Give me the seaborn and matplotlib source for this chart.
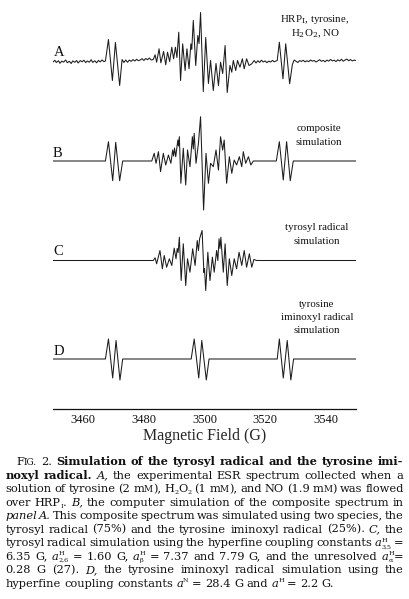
import numpy as np
import pandas as pd
import matplotlib
matplotlib.use('Agg')
import matplotlib.pyplot as plt
from matplotlib.ticker import MultipleLocator
import seaborn as sns

# ---------------- data (field in G, signal in arbitrary units) ----------------
a_field = [3450.0, 3450.6, 3451.1, 3451.8, 3452.3, 3452.9, 3453.5, 3454.2, 3454.7, 3455.4,
           3456.0, 3456.5, 3457.2, 3457.8, 3458.3, 3459.0, 3459.6, 3460.2, 3460.8, 3461.3,
           3462.0, 3462.6, 3463.1, 3463.8, 3464.4, 3465.0, 3465.6, 3466.2, 3466.8, 3467.3,
           3468.3, 3469.6, 3470.6, 3472.0, 3472.8, 3473.4, 3474.0,
           3474.6, 3475.2, 3475.8, 3476.4, 3477.0, 3477.6, 3478.2, 3478.8, 3479.4, 3480.0,
           3480.6, 3481.2, 3481.8, 3482.4,
           3483.1, 3483.7, 3484.2, 3485.0, 3485.6, 3486.5, 3487.2, 3487.8, 3488.5, 3489.2,
           3489.8, 3490.4, 3490.9, 3491.5, 3492.1, 3492.8, 3493.6, 3494.2, 3494.9, 3495.5,
           3495.8, 3496.3, 3497.1, 3497.8, 3498.2, 3498.7, 3499.6, 3500.4, 3501.3, 3502.0,
           3502.9, 3503.8, 3504.6, 3505.3, 3506.0, 3506.8, 3507.5, 3508.4, 3509.0, 3509.5,
           3510.3, 3510.9, 3511.7, 3512.5, 3513.1, 3513.9, 3514.7, 3515.6,
           3516.4, 3517.0, 3517.6, 3518.2, 3518.8, 3519.4, 3520.0, 3520.6, 3521.2, 3521.8,
           3522.4, 3523.0, 3523.6,
           3524.0, 3524.7, 3525.9, 3526.8, 3528.1, 3529.0, 3529.6,
           3530.2, 3530.8, 3531.4, 3532.0, 3532.6, 3533.2, 3533.8, 3534.4, 3535.0, 3535.6,
           3536.2, 3536.8, 3537.4, 3538.0, 3538.6, 3539.2, 3539.8, 3540.4, 3541.0, 3541.6,
           3542.2, 3542.8, 3543.4, 3544.0, 3544.6, 3545.2, 3545.8, 3546.4, 3547.0, 3547.6,
           3548.2, 3548.8, 3549.4, 3550.0]
a_signal = [-0.5, 1.2, -1.0, 0.8, -1.8, 0.4, -0.6, 1.5, -1.2, 0.2,
            -2.0, 0.6, -0.8, 1.0, -1.5, 0.9, -0.3, 1.3, -1.1, 0.5,
            -0.7, 1.8, -0.9, 0.7, -1.3, 1.1, -0.4, 1.6, -0.2, 0.5,
            22.0, -19.0, 19.0, -24.0, 2.0, -1.0, 1.5,
            -0.8, 1.4, 0.2, 1.9, 0.5, 2.2, 0.8, 1.5, 2.8, 1.0,
            3.0, 1.8, 3.5, 1.5,
            2.0, 6.7, -0.7, 12.7, -1.3, 10.0, -3.3, 9.3, 0.0, 14.3,
            2.7, 14.3, 4.0, 29.3, -19.0, 17.7, -9.0, 12.7, -7.3, 17.7,
            12.0, 41.0, -4.0, 26.0, 18.0, 49.0, -30.0, 24.0, -22.0, 1.0,
            -29.0, -2.0, -24.0, -0.7, -12.0, 16.0, -31.0, -4.0, -10.7, 1.0,
            -9.0, 1.0, -5.7, 2.7, -7.3, 2.7, -4.0, -2.3,
            1.0, -1.5, 0.8, -0.9, 1.3, -0.5, 0.6, -1.2, 0.4, -0.6,
            1.1, -0.3, 0.5,
            1.0, 19.3, -17.3, 17.7, -22.3, -3.0, 1.5,
            0.2, -1.0, 0.9, 0.1, 1.2, -0.4, 0.8, -0.2, 1.5, 0.3,
            1.0, -0.5, 0.7, 1.8, 0.2, 1.1, -0.3, 1.4, 0.4, 2.0,
            0.6, 1.3, -0.1, 1.7, 0.5, 2.2, 0.3, 1.5, 2.4, 0.8,
            1.9, 0.6, 1.4, 1.0]

b_field = [3450.0, 3467.3, 3468.3, 3469.7, 3470.7, 3472.0, 3473.0,
           3482.6, 3483.4, 3484.0, 3484.8, 3485.5, 3486.4, 3487.2, 3488.1, 3488.9, 3489.5,
           3489.8, 3490.1, 3490.5, 3491.2, 3491.4, 3491.7, 3492.2, 3493.0, 3493.8, 3494.4,
           3495.2, 3496.0, 3496.3, 3496.6, 3497.2, 3498.0, 3498.7, 3499.7, 3500.5, 3501.3,
           3502.0, 3502.9, 3503.8, 3504.6, 3505.3, 3506.0, 3506.5, 3507.3, 3508.2, 3509.0,
           3509.8, 3510.6, 3511.5, 3512.3, 3512.8, 3513.6, 3514.5, 3515.3, 3516.1,
           3523.7, 3524.7, 3526.0, 3527.1, 3528.3, 3529.3, 3550.0]
b_signal = [0.0, 0.0, 19.3, -19.7, 18.7, -19.7, 0.0,
            0.0, 7.7, -2.3, 9.3, -10.7, 7.7, -4.0, 6.0, -2.3, 11.0,
            5.0, 13.0, 4.3, 21.0, 15.0, 24.3, -22.3, 12.7, -24.0, 11.0,
            -5.7, 24.3, 12.0, 27.7, -2.3, 17.7, 44.3, -49.0, 7.7, -22.3,
            -2.3, -5.7, 11.0, -9.0, 24.3, 11.0, 21.0, -22.3, 4.3, -12.3,
            1.0, -4.0, 4.3, -5.7, 9.3, -2.3, 4.3, -4.0, 0.0,
            0.0, 19.3, -19.0, 19.3, -19.7, 0.0, 0.0]

c_field = [3450.0, 3483.1, 3483.7, 3484.2, 3485.3, 3486.1, 3486.7, 3487.5, 3488.4, 3489.2,
           3490.0, 3490.6, 3491.0, 3491.3, 3491.7, 3492.3, 3493.0, 3493.8, 3494.4, 3495.2,
           3496.1, 3496.9, 3497.6, 3498.0, 3498.4, 3499.2, 3499.8, 3500.0, 3500.4, 3501.1,
           3501.8, 3502.6, 3503.2, 3504.0, 3504.4, 3504.8, 3505.1, 3505.4, 3506.2, 3506.8,
           3507.5, 3508.2, 3509.0, 3509.8, 3510.6, 3511.4, 3512.3, 3513.1, 3513.9, 3514.8,
           3515.6, 3516.3, 3517.2, 3550.0]
c_signal = [0.0, 0.0, 2.7, -3.3, 10.0, -8.3, 5.0, -6.7, 1.7, -5.0,
            12.3, 1.7, 12.0, 8.0, 23.3, -20.0, 16.7, -25.0, 1.7, -11.7,
            11.7, -5.0, 20.0, 10.0, 22.0, 30.0, -12.0, -8.0, -30.0, 8.3,
            -20.0, 3.3, -11.7, 10.0, 0.0, 21.7, 12.0, 23.3, -11.7, 16.7,
            -25.0, 1.7, -15.0, 1.7, -8.3, 8.3, -5.0, 10.0, -6.7, 6.7,
            -6.7, 1.0, 0.0, 0.0]

d_field = [3450.0, 3467.3, 3468.3, 3469.7, 3470.8, 3472.1, 3473.0,
           3495.6, 3496.6, 3498.1, 3499.1, 3500.6, 3501.5,
           3524.0, 3524.7, 3526.0, 3527.3, 3528.5, 3529.4, 3550.0]
d_signal = [0.0, 0.0, 20.0, -19.0, 18.5, -21.0, 0.0,
            0.0, 20.0, -19.0, 18.5, -21.0, 0.0,
            0.0, 20.0, -19.0, 18.5, -21.0, 0.0, 0.0]

panel_letters = ['A', 'B', 'C', 'D']
panel_notes = [['HRP$_{\\mathrm{I}}$, tyrosine,', 'H$_2$O$_2$, NO'],
               ['composite', 'simulation'],
               ['tyrosyl radical', 'simulation'],
               ['tyrosine', 'iminoxyl radical', 'simulation']]
x_ticks = [3460, 3480, 3500, 3520, 3540]
x_label = 'Magnetic Field (G)'

# ---------------- layout ----------------
sns.set_style('white')
plt.rcParams['font.family'] = ['Liberation Serif', 'DejaVu Serif']
plt.rcParams['mathtext.fontset'] = 'dejavuserif'

W, H = 410, 599
fig = plt.figure(figsize=(W / 100, H / 100), dpi=100)
AX_BOTTOM = 409
ax = fig.add_axes([53 / W, 1 - AX_BOTTOM / H, 303 / W, AX_BOTTOM / H])
ax.set_xlim(3450, 3550)
ax.set_ylim(0, AX_BOTTOM)

baselines_px = [61.5, 161.0, 260.5, 359.0]
traces = [(a_field, a_signal), (b_field, b_signal), (c_field, c_signal), (d_field, d_signal)]
line_color = '#1c1c1c'
for (fx, sy), base in zip(traces, baselines_px):
    df = pd.DataFrame({'field': fx, 'signal': np.asarray(sy) + (AX_BOTTOM - base)})
    sns.lineplot(data=df, x='field', y='signal', ax=ax, color=line_color,
                 linewidth=0.75, estimator=None, sort=False)

for s in ['left', 'top', 'right']:
    ax.spines[s].set_visible(False)
ax.spines['bottom'].set_linewidth(0.9)
ax.spines['bottom'].set_color('#111111')
ax.set_yticks([])
ax.set_ylabel('')
ax.set_xticks(x_ticks)
ax.set_xticklabels([str(t) for t in x_ticks])
ax.xaxis.set_minor_locator(MultipleLocator(10))
ax.tick_params(axis='x', which='major', direction='inout', length=7, width=0.9,
               labelsize=9, pad=0.3, colors='#111111')
ax.tick_params(axis='x', which='minor', direction='inout', length=4.5, width=0.9,
               colors='#111111')
ax.set_xlabel(x_label, fontsize=11.5)
ax.xaxis.set_label_coords(0.5, -(436 - AX_BOTTOM) / AX_BOTTOM)
ax.xaxis.label.set_va('center')


def fx_(x):
    return x / W


def fy_(y):
    return 1 - y / H


letter_pos = [(54, 56), (53, 157), (53, 255), (54, 355)]
for lt, (x, y) in zip(panel_letters, letter_pos):
    fig.text(fx_(x), fy_(y), lt, fontsize=10.5, ha='left', va='baseline', color='#111111')

note_pos = [(315, [22, 36]), (319, [131, 145]), (317, [230, 244]), (317, [307, 320, 333])]
for lines, (xc, ys) in zip(panel_notes, note_pos):
    for s, y in zip(lines, ys):
        fig.text(fx_(xc), fy_(y), s, fontsize=7.8, ha='center', va='baseline', color='#111111')

# ---------------- caption (justified) ----------------
cap_lines = [
    [('F', 'n'), ('IG.', 'sc'), (' 2. ', 'n'),
     ('Simulation of the tyrosyl radical and the tyrosine imi-', 'b')],
    [('noxyl radical.', 'b'), (' ', 'n'), ('A,', 'i'),
     (' the experimental ESR spectrum collected when a', 'n')],
    [('solution of tyrosine (2 m', 'n'), ('M', 'sc'), ('), H', 'n'), ('2', 'sub'), ('O', 'n'),
     ('2', 'sub'), (' (1 m', 'n'), ('M', 'sc'), ('), and NO (1.9 m', 'n'), ('M', 'sc'),
     (') was flowed', 'n')],
    [('over HRP', 'n'), ('I', 'sub'), ('.', 'n'), (' ', 'n'), ('B,', 'i'),
     (' the computer simulation of the composite spectrum in', 'n')],
    [('panel A.', 'i'), (' This composite spectrum was simulated using two species, the', 'n')],
    [('tyrosyl radical (75%) and the tyrosine iminoxyl radical (25%).', 'n'), (' ', 'n'),
     ('C,', 'i'), (' the', 'n')],
    [('tyrosyl radical simulation using the hyperfine coupling constants ', 'n'), ('a', 'i'),
     (('H', '3,5'), 'stack'), (' =', 'n')],
    [('6.35 G, ', 'n'), ('a', 'i'), (('H', '2,6'), 'stack'), (' = 1.60 G, ', 'n'), ('a', 'i'),
     (('H', '\u03b2'), 'stack'), (' = 7.37 and 7.79 G, and the unresolved ', 'n'), ('a', 'i'),
     (('H', '\u03b1'), 'stack'), ('=', 'n')],
    [('0.28 G (27).', 'n'), (' ', 'n'), ('D,', 'i'),
     (' the tyrosine iminoxyl radical simulation using the', 'n')],
    [('hyperfine coupling constants ', 'n'), ('a', 'i'), ('N', 'sup'), (' = 28.4 G and ', 'n'),
     ('a', 'i'), ('H', 'sup'), (' = 2.2 G.', 'n')],
]


def words_from_runs(runs):
    words = [[]]
    for text, style in runs:
        if isinstance(text, tuple):
            words[-1].append((text, style))
            continue
        parts = text.split(' ')
        for i, p in enumerate(parts):
            if i > 0:
                words.append([])
            if p:
                words[-1].append((p, style))
    return [w for w in words if w]


renderer = fig.canvas.get_renderer()
CAP_FAMILY = ['DejaVu Serif']
BASE_FS = 8.6
SCALE = {'n': 1.0, 'b': 1.0, 'i': 1.0, 'sc': 0.78, 'sub': 0.56, 'sup': 0.56}
OFFSET = {'sup': -0.38, 'sub': 0.20}


def mk(s, size, style):
    kw = dict(fontsize=size, family=CAP_FAMILY, ha='left', va='baseline', color='#111111')
    if style == 'b':
        kw['fontweight'] = 'bold'
    if style == 'i':
        kw['fontstyle'] = 'italic'
    return fig.text(0, 0, s, **kw)


class Seg:
    def __init__(self, text, style, fs):
        if style == 'stack':
            self.items = [(mk(text[0], fs, 'n'), 'sup'), (mk(text[1], fs, 'n'), 'sub')]
        else:
            self.items = [(mk(text, fs, style), style)]
        self.set_fs(fs)

    def set_fs(self, fs):
        self.fs = fs
        for t, st in self.items:
            t.set_fontsize(fs * SCALE[st])

    def width(self):
        return max(t.get_window_extent(renderer).width for t, _ in self.items)

    def place(self, x, yb):
        em = self.fs * 100 / 72
        for t, st in self.items:
            t.set_position((fx_(x), fy_(yb + OFFSET.get(st, 0.0) * em)))


cap_y0, cap_dy = 465.0, 13.52
X1 = 403.5
X0_FIRST, X0 = 16.0, 5.5
line_objs = []
for li, runs in enumerate(cap_lines):
    words = words_from_runs(runs)
    line_objs.append([[Seg(s, st, BASE_FS) for s, st in w] for w in words])

# one common font size that lets every justified line fit
gap_em = 0.18 * 100 / 72
fits = []
for li, objs in enumerate(line_objs):
    x0 = X0_FIRST if li == 0 else X0
    sumw = sum(sg.width() for w in objs for sg in w)
    n = len(objs) - 1
    fits.append((X1 - x0) / (sumw / BASE_FS + gap_em * n))
fs = min(min(fits), BASE_FS)

for li, objs in enumerate(line_objs):
    x0 = X0_FIRST if li == 0 else X0
    yb = cap_y0 + cap_dy * li
    for w in objs:
        for sg in w:
            sg.set_fs(fs)
    widths = [sum(sg.width() for sg in w) for w in objs]
    if li == len(line_objs) - 1:
        gap = 0.3 * fs * 100 / 72
    else:
        gap = ((X1 - x0) - sum(widths)) / max(len(widths) - 1, 1)
    x = x0
    for w, wd in zip(objs, widths):
        xx = x
        for sg in w:
            sg.place(xx, yb)
            xx += sg.width()
        x += wd + gap

fig.savefig('out.png', dpi=100)
